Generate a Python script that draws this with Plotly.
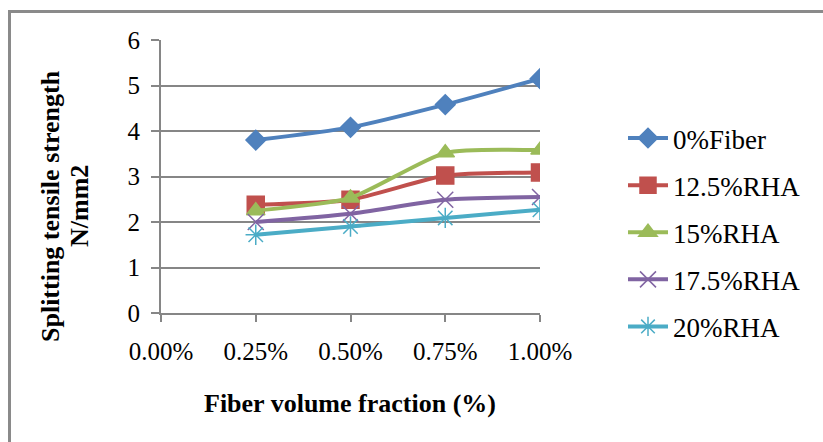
import plotly.graph_objects as go

# ---- data ----
x_vals = [0.0025, 0.0050, 0.0075, 0.0100]
x_ticks = [0.0, 0.0025, 0.0050, 0.0075, 0.0100]
x_tick_labels = ["0.00%", "0.25%", "0.50%", "0.75%", "1.00%"]
series_names = ["0%Fiber", "12.5%RHA", "15%RHA", "17.5%RHA", "20%RHA"]
fiber0 = [3.80, 4.08, 4.58, 5.15]
rha125 = [2.38, 2.49, 3.02, 3.09]
rha15 = [2.25, 2.53, 3.52, 3.58]
rha175 = [2.00, 2.18, 2.49, 2.55]
rha20 = [1.72, 1.90, 2.09, 2.27]
y_ticks = [0, 1, 2, 3, 4, 5, 6]
y_title_lines = ["Splitting tensile strength", "N/mm2"]
x_title = "Fiber volume fraction (%)"

series_values = [fiber0, rha125, rha15, rha175, rha20]
colors = ["#4F81BD", "#C0504D", "#9BBB59", "#8064A2", "#4BACC6"]
symbols = ["diamond", "square", "triangle-up", "x-thin-open", "asterisk-open"]
msizes = [15, 17, 16, 16, 17]

PW, PH = 823, 442
W, H = PW, PH
# plot area in page pixels
PL, PR, PT, PB = 161, 540, 40, 313

fig = go.Figure()
for i, (name, vals) in enumerate(zip(series_names, series_values)):
    fig.add_trace(go.Scatter(
        x=x_vals, y=vals, name=name, mode="lines+markers",
        line=dict(color=colors[i], width=4, shape="spline", smoothing=0.6),
        marker=dict(symbol=symbols[i], size=msizes[i], color=colors[i],
                    line=dict(color=colors[i], width=1.5)),
        legendgroup=name,
    ))

serif = "Liberation Serif, Times New Roman, serif"

def px_x(page_px):
    return (page_px - PL) / (PR - PL)

def px_y(page_py):
    return (PB - page_py) / (PB - PT)

annotations = [
    dict(text="<b>%s</b>" % y_title_lines[0], xref="paper", yref="paper",
         x=px_x(50), y=px_y(206), xanchor="center", yanchor="middle",
         textangle=-90, showarrow=False, font=dict(family=serif, size=26)),
    dict(text="<b>%s</b>" % y_title_lines[1], xref="paper", yref="paper",
         x=px_x(79), y=px_y(206), xanchor="center", yanchor="middle",
         textangle=-90, showarrow=False, font=dict(family=serif, size=26)),
    dict(text="<b>%s</b>" % x_title, xref="paper", yref="paper",
         x=px_x(350), y=px_y(403), xanchor="center", yanchor="middle",
         showarrow=False, font=dict(family=serif, size=26)),
]

border = dict(color="#8A8A8A", width=3)
shapes = [
    dict(type="line", xref="paper", yref="paper", layer="below",
         x0=px_x(9.5), x1=px_x(9.5), y0=px_y(10), y1=px_y(PH + 10), line=border),
    dict(type="line", xref="paper", yref="paper", layer="below",
         x0=px_x(8), x1=px_x(PW + 10), y0=px_y(11.5), y1=px_y(11.5), line=border),
]

fig.update_layout(
    width=W, height=H,
    margin=dict(l=PL, r=W - PR, t=PT, b=H - PB, autoexpand=False),
    paper_bgcolor="white", plot_bgcolor="white",
    font=dict(family=serif, color="black", size=24),
    showlegend=True,
    legend=dict(
        x=px_x(623), y=px_y(114), xanchor="left", yanchor="top",
        font=dict(family=serif, size=27, color="black"),
        traceorder="grouped", tracegroupgap=9, itemwidth=40,
        bgcolor="rgba(0,0,0,0)",
    ),
    xaxis=dict(
        range=[0, 0.01], tickmode="array", tickvals=x_ticks, ticktext=x_tick_labels,
        showgrid=False, zeroline=False, showline=True, linecolor="#868686", linewidth=2,
        ticks="outside", ticklen=7, tickwidth=2, tickcolor="#868686",
        tickfont=dict(family=serif, size=25), ticklabelstandoff=8,
    ),
    yaxis=dict(
        range=[0, 6], tickmode="array", tickvals=y_ticks,
        showgrid=True, gridcolor="#868686", gridwidth=2,
        zeroline=False, showline=True, linecolor="#868686", linewidth=2,
        ticks="outside", ticklen=8, tickwidth=2, tickcolor="#868686",
        tickfont=dict(family=serif, size=25), ticklabelstandoff=6,
    ),
    annotations=annotations,
    shapes=shapes,
)

fig.write_html(
    "out.html",
    config={"displayModeBar": False},
    post_script="document.body.style.margin='0';"
                "document.documentElement.style.overflow='hidden';",
)
